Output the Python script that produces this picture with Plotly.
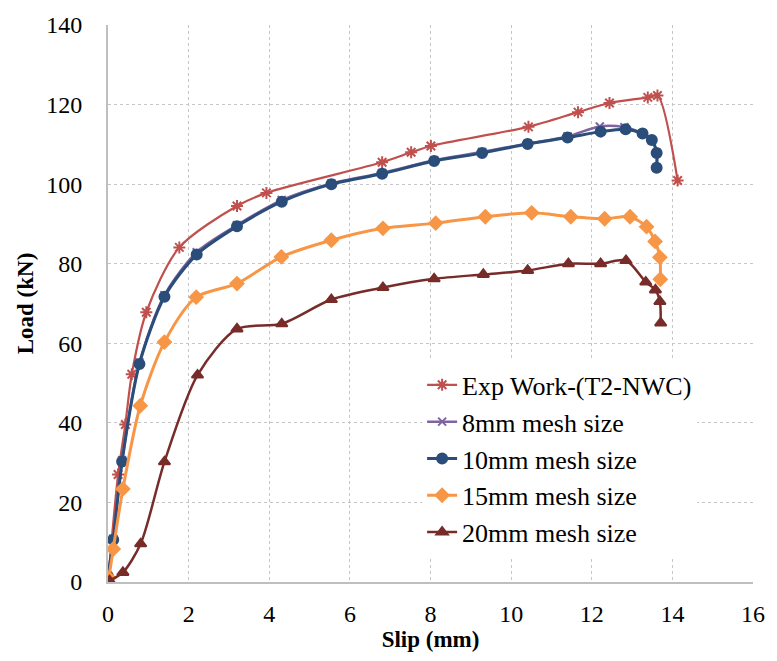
import plotly.graph_objects as go

# ---- data ----
exp_x = [0.0, 0.25, 0.43, 0.59, 0.95, 1.77, 3.20, 3.93, 6.80, 7.52, 8.01, 10.43, 11.66, 12.44, 13.39, 13.63, 14.13]
exp_y = [0.0, 27.0, 39.6, 52.2, 67.8, 84.1, 94.5, 97.8, 105.5, 108.0, 109.6, 114.4, 118.1, 120.4, 121.8, 122.3, 100.9]

m8_x = [0.0, 0.13, 0.35, 0.78, 1.40, 2.20, 3.20, 4.31, 5.54, 6.80, 8.09, 9.28, 10.41, 11.40, 12.20, 12.81, 13.26, 13.49, 13.61, 13.61]
m8_y = [1.6, 10.9, 30.6, 55.2, 72.1, 82.9, 89.7, 96.0, 100.2, 102.8, 106.0, 108.1, 110.2, 112.0, 114.5, 114.3, 112.8, 111.0, 107.9, 104.2]

m10_x = [0.0, 0.13, 0.35, 0.78, 1.40, 2.20, 3.20, 4.31, 5.54, 6.80, 8.09, 9.28, 10.41, 11.40, 12.22, 12.84, 13.26, 13.49, 13.61, 13.61]
m10_y = [1.4, 10.6, 30.3, 54.8, 71.7, 82.3, 89.4, 95.6, 100.0, 102.6, 105.8, 107.8, 110.1, 111.7, 113.2, 113.8, 112.7, 111.1, 107.8, 104.1]

m15_x = [0.02, 0.13, 0.37, 0.80, 1.40, 2.19, 3.20, 4.30, 5.54, 6.82, 8.13, 9.36, 10.51, 11.48, 12.32, 12.95, 13.36, 13.57, 13.69, 13.70]
m15_y = [1.0, 8.3, 23.4, 44.3, 60.3, 71.6, 75.0, 81.7, 85.9, 88.9, 90.2, 91.8, 92.8, 91.8, 91.3, 91.8, 89.3, 85.6, 81.6, 76.1]

m20_x = [0.0, 0.04, 0.37, 0.81, 1.40, 2.22, 3.20, 4.31, 5.54, 6.82, 8.09, 9.31, 10.41, 11.42, 12.22, 12.85, 13.34, 13.58, 13.69, 13.71]
m20_y = [0.0, 0.3, 2.4, 9.6, 30.2, 52.0, 63.6, 64.9, 71.0, 74.0, 76.2, 77.3, 78.3, 80.0, 80.0, 80.8, 75.4, 73.4, 70.5, 65.1]

names = ["Exp Work-(T2-NWC)", "8mm mesh size", "10mm mesh size", "15mm mesh size", "20mm mesh size"]
x_ticks = list(range(0, 17, 2))
y_ticks = list(range(0, 141, 20))

series = [
    (exp_x, exp_y, names[0], "#C0504D", 2.2, "asterisk-open", 10),
    (m8_x, m8_y, names[1], "#8064A2", 2.5, "x-thin-open", 8),
    (m10_x, m10_y, names[2], "#2A4D7A", 3, "circle", 10),
    (m15_x, m15_y, names[3], "#F79646", 3, "diamond", 10),
    (m20_x, m20_y, names[4], "#772C2A", 2.5, "triangle-up", 10),
]

FF = "Liberation Serif"

fig = go.Figure()
for xs, ys, nm, col, lw, sym, ms in series:
    fig.add_trace(go.Scatter(
        x=xs, y=ys, name=nm, mode="lines+markers",
        line=dict(color=col, width=lw, shape="spline", smoothing=0.8),
        marker=dict(symbol=sym, size=ms, color=col, line=dict(color=col, width=2)),
    ))

fig.update_layout(
    width=777, height=661,
    margin=dict(l=108, r=19, t=19, b=79),
    paper_bgcolor="white", plot_bgcolor="white",
    font=dict(family=FF, size=24, color="black"),
    showlegend=True,
    legend=dict(x=0.487, y=0.396, xanchor="left", yanchor="top",
                bgcolor="white", borderwidth=0,
                font=dict(family=FF, size=26, color="black")),
)
fig.update_xaxes(
    range=[0, 16], tickvals=x_ticks, ticktext=[str(v) for v in x_ticks],
    tickfont=dict(family=FF, size=24, color="black"),
    showgrid=True, gridcolor="#C6C6C6", griddash="dot", gridwidth=1,
    showline=True, linecolor="#BFBFBF", linewidth=2,
    zeroline=False, ticks="", ticklabelstandoff=9,
    title=dict(text="<b>Slip (mm)</b>", standoff=0, font=dict(size=23, family=FF, color="black")),
)
fig.update_yaxes(
    range=[0, 140], tickvals=y_ticks, ticktext=[str(v) for v in y_ticks],
    tickfont=dict(family=FF, size=24, color="black"),
    showgrid=True, gridcolor="#C6C6C6", griddash="dot", gridwidth=1,
    showline=True, linecolor="#BFBFBF", linewidth=2,
    zeroline=False, ticks="", ticklabelstandoff=19,
    title=dict(text="<b>Load (kN)</b>", standoff=6, font=dict(size=23, family=FF, color="black")),
)
fig.write_html("out.html")
